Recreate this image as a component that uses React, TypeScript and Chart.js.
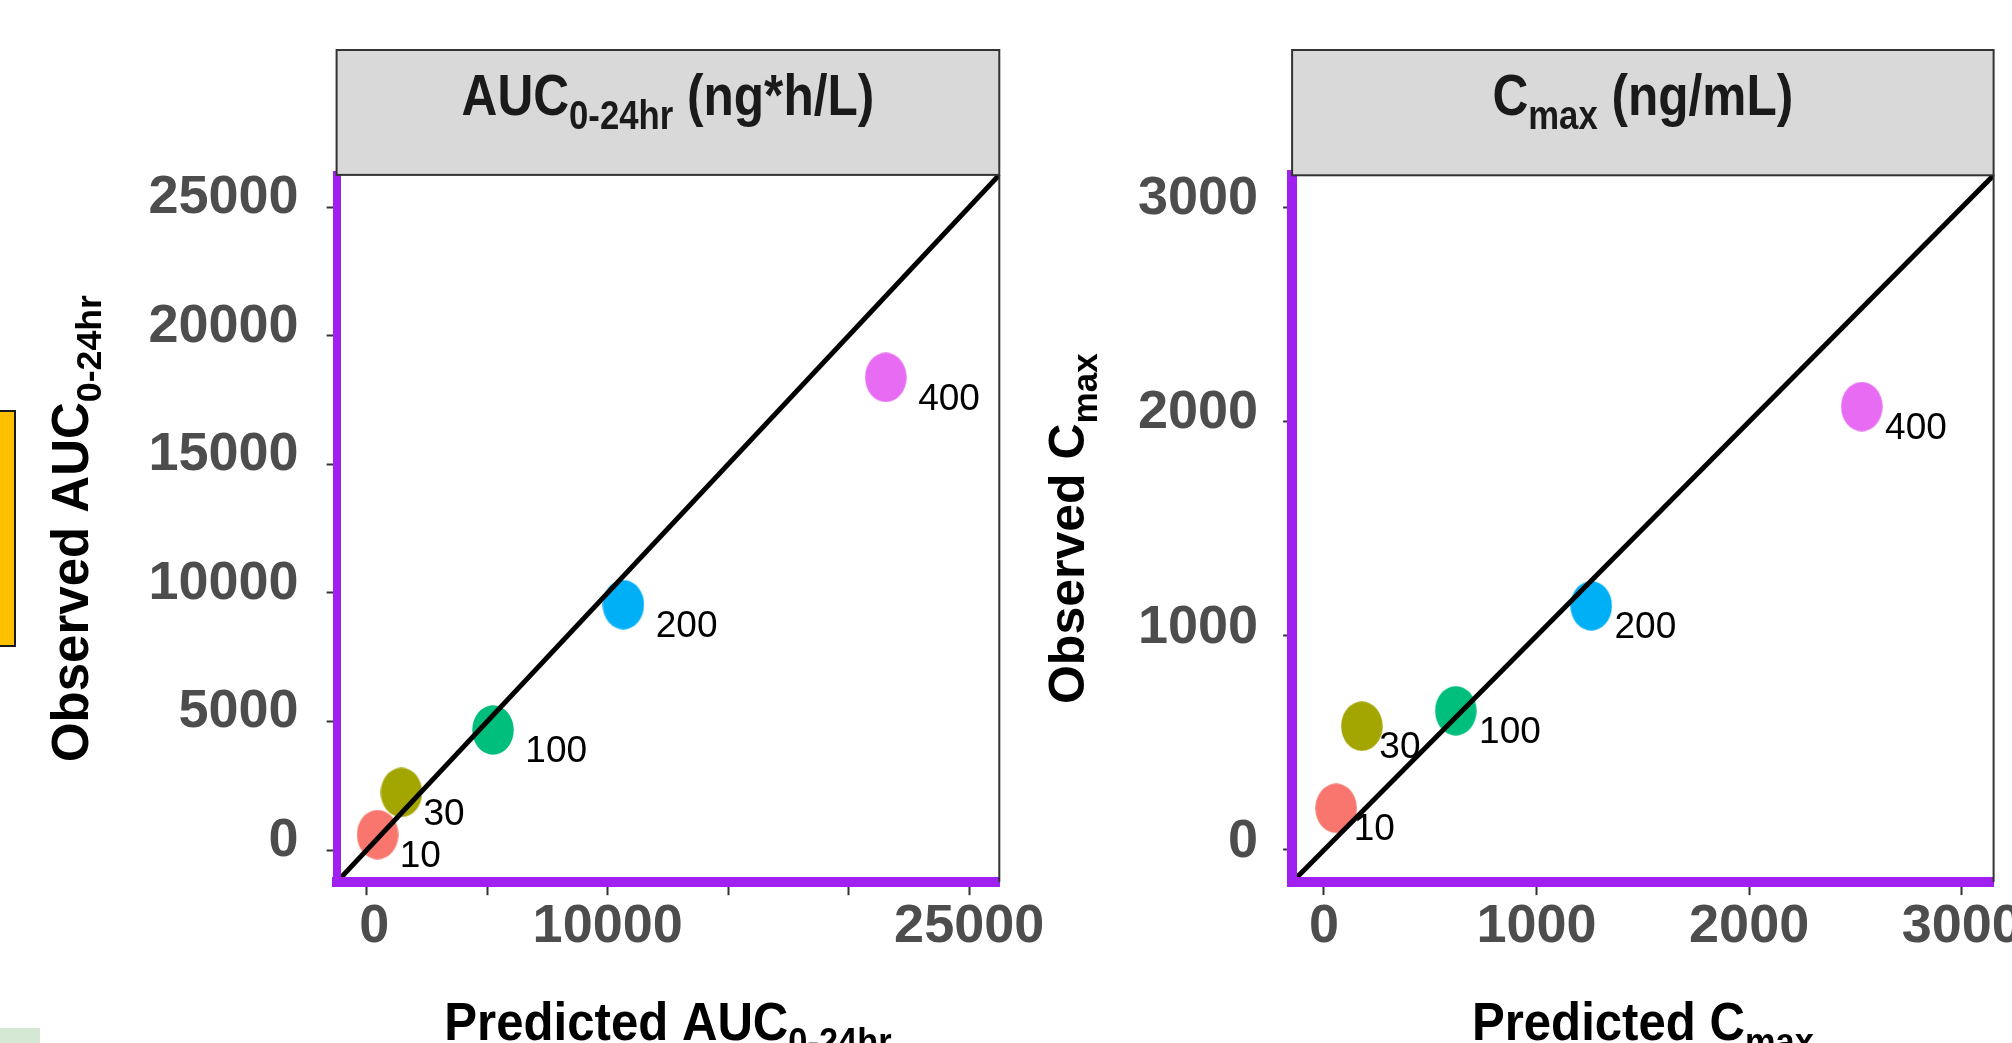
import React, { useEffect, useRef } from 'react';
import { Chart, registerables } from 'chart.js';

Chart.register(...registerables);

// ---------- data ----------
const DOSES = ['10', '30', '100', '200', '400'];
const DOSE_COLORS = ['#F8766D', '#A3A500', '#00BF7D', '#00B0F6', '#E76BF3'];

const AUC_PREDICTED = [450, 1440, 5240, 10650, 21540];
const AUC_OBSERVED = [600, 2240, 4670, 9540, 18380];
const CMAX_PREDICTED = [57, 178, 620, 1257, 2530];
const CMAX_OBSERVED = [195, 578, 650, 1140, 2070];

const AUC_LIMITS = [0, 25000];
const CMAX_LIMITS = [0, 3000];

const AUC_TICKS = [0, 5000, 10000, 15000, 20000, 25000];
const AUC_X_LABELS = [' 0', '', '10000', '', '', '25000'];
const AUC_Y_LABELS = ['0', '5000', '10000', '15000', '20000', '25000'];
const CMAX_TICKS = [0, 1000, 2000, 3000];
const CMAX_LABELS = ['0', '1000', '2000', '3000'];

type Part = { t: string; sub?: boolean };
const AUC_STRIP: Part[] = [{ t: 'AUC' }, { t: '0-24hr', sub: true }, { t: ' (ng*h/L)' }];
const AUC_X_TITLE: Part[] = [{ t: 'Predicted AUC' }, { t: '0-24hr', sub: true }];
const AUC_Y_TITLE: Part[] = [{ t: 'Observed AUC' }, { t: '0-24hr', sub: true }];
const CMAX_STRIP: Part[] = [{ t: 'C' }, { t: 'max', sub: true }, { t: ' (ng/mL)' }];
const CMAX_X_TITLE: Part[] = [{ t: 'Predicted C' }, { t: 'max', sub: true }];
const CMAX_Y_TITLE: Part[] = [{ t: 'Observed C' }, { t: 'max', sub: true }];

// ---------- layout ----------
const FAMILY = '"Liberation Sans", Arial, Helvetica, sans-serif';
const W = 1080;
const H = 1043;
const STRIP_TOP = 50;

const PANELS = [
  {
    left: 0,
    area: { left: 336.6, right: 999.3, top: 174.9, bottom: 882.2 },
    limits: AUC_LIMITS,
    pred: AUC_PREDICTED,
    obs: AUC_OBSERVED,
    xTicks: AUC_TICKS,
    xLabels: AUC_X_LABELS,
    yTicks: AUC_TICKS,
    yLabels: AUC_Y_LABELS,
    strip: AUC_STRIP,
    xTitle: AUC_X_TITLE,
    yTitle: AUC_Y_TITLE,
    yTitleX: 88,
    yTitleSize: 51,
    yTickLen: 10,
    yPad: 28,
    yLabelOffset: -9,
    yBorder: 8,
    labelK: 0.5,
    labelC: 1.5,
  },
  {
    left: 1000,
    area: { left: 292.1, right: 993.6, top: 175.3, bottom: 882.1 },
    limits: CMAX_LIMITS,
    pred: CMAX_PREDICTED,
    obs: CMAX_OBSERVED,
    xTicks: CMAX_TICKS,
    xLabels: CMAX_LABELS,
    yTicks: CMAX_TICKS,
    yLabels: CMAX_LABELS,
    strip: CMAX_STRIP,
    xTitle: CMAX_X_TITLE,
    yTitle: CMAX_Y_TITLE,
    yTitleX: 84,
    yTitleSize: 50,
    yTickLen: 9,
    yPad: 25,
    yLabelOffset: -8,
    yBorder: 10,
    labelK: 0.28,
    labelC: 6,
  },
];

type PanelCfg = (typeof PANELS)[number];

function drawRich(
  ctx: CanvasRenderingContext2D,
  parts: Part[],
  x: number,
  y: number,
  size: number,
  opts: { rotate?: boolean; sx?: number; color?: string }
) {
  const subSize = size * 0.7;
  const fMain = `bold ${size}px ${FAMILY}`;
  const fSub = `bold ${subSize}px ${FAMILY}`;
  ctx.save();
  ctx.translate(x, y);
  if (opts.rotate) ctx.rotate(-Math.PI / 2);
  ctx.scale(opts.sx ?? 1, 1);
  ctx.textAlign = 'left';
  ctx.textBaseline = 'alphabetic';
  ctx.fillStyle = opts.color ?? '#000';
  let total = 0;
  const widths = parts.map((p) => {
    ctx.font = p.sub ? fSub : fMain;
    const w = ctx.measureText(p.t).width;
    total += w;
    return w;
  });
  let cx = -total / 2;
  parts.forEach((p, i) => {
    ctx.font = p.sub ? fSub : fMain;
    ctx.fillText(p.t, cx, p.sub ? size * 0.25 : 0);
    cx += widths[i];
  });
  ctx.restore();
}

function ellipseStyle(color: string): HTMLCanvasElement {
  const c = document.createElement('canvas');
  c.width = 42;
  c.height = 50;
  const g = c.getContext('2d')!;
  g.fillStyle = color;
  g.beginPath();
  g.ellipse(21, 25, 20.75, 24.65, 0, 0, Math.PI * 2);
  g.fill();
  return c;
}

function buildConfig(p: PanelCfg): any {
  const span = p.limits[1] - p.limits[0];
  const lo = p.limits[0] - 0.05 * span;
  const hi = p.limits[1] + 0.05 * span;
  const tickFont = { family: FAMILY, size: 54, weight: 'bold' as const, lineHeight: 1 };

  const overlay = {
    id: 'overlay',
    afterDraw(chart: any) {
      const ctx: CanvasRenderingContext2D = chart.ctx;
      const a = chart.chartArea;
      ctx.save();
      // panel border (right)
      ctx.strokeStyle = '#333333';
      ctx.lineWidth = 2;
      ctx.beginPath();
      ctx.moveTo(a.right, a.top);
      ctx.lineTo(a.right, a.bottom);
      ctx.stroke();
      // strip
      ctx.fillStyle = '#D9D9D9';
      ctx.fillRect(a.left, STRIP_TOP, a.right - a.left, a.top - STRIP_TOP);
      ctx.strokeRect(a.left, STRIP_TOP, a.right - a.left, a.top - STRIP_TOP);
      ctx.restore();

      const cxArea = (a.left + a.right) / 2;
      const cyArea = (a.top + a.bottom) / 2;
      drawRich(ctx, p.strip, cxArea, 115, 57, { sx: 0.87, color: '#1A1A1A' });
      drawRich(ctx, p.xTitle, cxArea, 1040, 54, { sx: 0.91, color: '#000' });
      drawRich(ctx, p.yTitle, p.yTitleX, cyArea, p.yTitleSize, { rotate: true, color: '#000' });

      // point labels
      const meta = chart.getDatasetMeta(1);
      ctx.save();
      ctx.font = `37px ${FAMILY}`;
      ctx.fillStyle = '#000';
      ctx.textAlign = 'left';
      ctx.textBaseline = 'middle';
      meta.data.forEach((el: any, i: number) => {
        const label = DOSES[i];
        const w = ctx.measureText(label).width;
        ctx.fillText(label, el.x + p.labelK * w + p.labelC, el.y + 22);
      });
      ctx.restore();
    },
  };

  return {
    type: 'scatter',
    data: {
      datasets: [
        {
          type: 'line',
          data: [
            { x: lo, y: lo },
            { x: hi, y: hi },
          ],
          borderColor: '#000000',
          borderWidth: 5,
          pointRadius: 0,
          order: 0,
        },
        {
          type: 'scatter',
          data: p.pred.map((x, i) => ({ x, y: p.obs[i] })),
          pointStyle: DOSE_COLORS.map(ellipseStyle),
          pointRadius: 20,
          order: 1,
        },
      ],
    },
    options: {
      responsive: false,
      animation: false,
      events: [],
      layout: { padding: { left: 0, top: p.area.top, right: W - p.area.right, bottom: 0 } },
      plugins: { legend: { display: false }, tooltip: { enabled: false } },
      scales: {
        x: {
          type: 'linear',
          min: lo,
          max: hi,
          afterFit: (s: any) => {
            s.height = H - p.area.bottom;
          },
          afterBuildTicks: (s: any) => {
            s.ticks = p.xTicks.map((v) => ({ value: v }));
          },
          grid: { drawOnChartArea: false, drawTicks: true, tickLength: 13, tickColor: '#333333', tickWidth: 2 },
          border: { color: '#A020F0', width: 10, z: 1 },
          ticks: {
            autoSkip: false,
            maxRotation: 0,
            minRotation: 0,
            padding: 5,
            color: '#4D4D4D',
            font: tickFont,
            callback: (_v: any, i: number) => p.xLabels[i],
          },
        },
        y: {
          type: 'linear',
          min: lo,
          max: hi,
          afterFit: (s: any) => {
            s.width = p.area.left;
          },
          afterBuildTicks: (s: any) => {
            s.ticks = p.yTicks.map((v) => ({ value: v }));
          },
          grid: { drawOnChartArea: false, drawTicks: true, tickLength: p.yTickLen, tickColor: '#333333', tickWidth: 2 },
          border: { color: '#A020F0', width: p.yBorder, z: 1 },
          ticks: {
            autoSkip: false,
            padding: p.yPad,
            labelOffset: p.yLabelOffset,
            color: '#4D4D4D',
            font: tickFont,
            callback: (_v: any, i: number) => p.yLabels[i],
          },
        },
      },
    },
    plugins: [overlay],
  };
}

function Panel({ cfg }: { cfg: PanelCfg }) {
  const ref = useRef<HTMLCanvasElement>(null);
  useEffect(() => {
    const chart = new Chart(ref.current!, buildConfig(cfg));
    return () => chart.destroy();
  }, [cfg]);
  return (
    <canvas
      ref={ref}
      width={W}
      height={H}
      style={{ position: 'absolute', left: cfg.left, top: 0, width: W, height: H }}
    />
  );
}

export default function App() {
  return (
    <div
      style={{
        position: 'fixed',
        left: 0,
        top: 0,
        width: 2012,
        height: 1043,
        overflow: 'hidden',
        background: '#FFFFFF',
      }}
    >
      <div
        style={{
          position: 'absolute',
          left: -3,
          top: 410,
          width: 19,
          height: 237,
          boxSizing: 'border-box',
          background: '#FFC000',
          border: '2px solid #1A1A1A',
        }}
      />
      <div
        style={{
          position: 'absolute',
          left: 0,
          top: 1028,
          width: 40,
          height: 20,
          background: '#D5E8D4',
        }}
      />
      {PANELS.map((p, i) => (
        <Panel key={i} cfg={p} />
      ))}
    </div>
  );
}
